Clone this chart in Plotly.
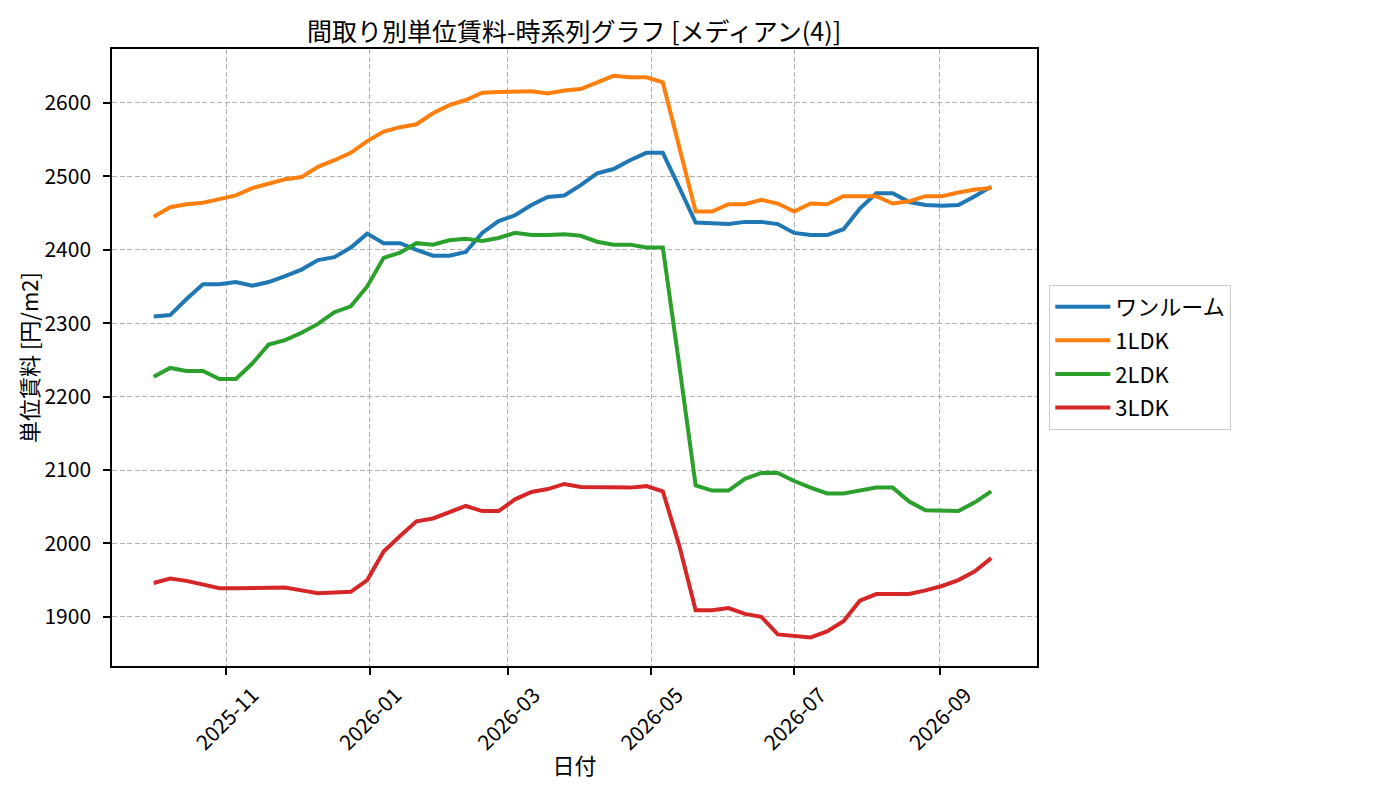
import pandas as pd
import plotly.graph_objects as go

# ---- data ----
dates = pd.date_range("2025-10-01", periods=52, freq="7D")

series_names = ["ワンルーム", "1LDK", "2LDK", "3LDK"]

one_room = [2309, 2311, 2333, 2353, 2353, 2356, 2351, 2356, 2364, 2373,
            2386, 2390, 2403, 2422, 2409, 2409, 2400, 2392, 2392, 2397,
            2423, 2439, 2447, 2461, 2472, 2474, 2488, 2504, 2510, 2522,
            2532, 2532, 2485, 2437, 2436, 2435, 2438, 2438, 2435, 2423,
            2420, 2420, 2428, 2456, 2477, 2477, 2465, 2461, 2460, 2461,
            2473, 2486]

ldk1 = [2445, 2458, 2462, 2464, 2469, 2474, 2484, 2490, 2496, 2499,
        2513, 2522, 2532, 2548, 2561, 2567, 2571, 2586, 2597, 2604,
        2614, 2615, 2616, 2616, 2613, 2617, 2619, 2628, 2637, 2635,
        2635, 2628, 2538, 2452, 2452, 2462, 2462, 2468, 2463, 2452,
        2463, 2462, 2473, 2473, 2473, 2463, 2466, 2473, 2473, 2478,
        2482, 2484]

ldk2 = [2227, 2239, 2235, 2235, 2224, 2224, 2245, 2271, 2277, 2287,
        2299, 2315, 2323, 2350, 2389, 2396, 2409, 2407, 2413, 2415,
        2412, 2416, 2423, 2420, 2420, 2421, 2419, 2411, 2407, 2407,
        2403, 2403, 2243, 2079, 2072, 2072, 2088, 2096, 2096, 2085,
        2076, 2068, 2068, 2072, 2076, 2076, 2057, 2045, 2044, 2044,
        2056, 2071]

ldk3 = [1946, 1952, 1949, 1944, 1939, 1939, 1939, 1939, 1940, 1936,
        1932, 1933, 1934, 1950, 1989, 2010, 2030, 2034, 2042, 2051,
        2044, 2044, 2060, 2070, 2074, 2081, 2077, 2077, 2076, 2076,
        2078, 2071, 1997, 1909, 1909, 1912, 1904, 1900, 1876, 1874,
        1872, 1880, 1894, 1922, 1931, 1931, 1931, 1936, 1942, 1950,
        1962, 1980]

x_tick_vals = ["2025-11-01", "2026-01-01", "2026-03-01",
               "2026-05-01", "2026-07-01", "2026-09-01"]
x_tick_text = ["2025-11", "2026-01", "2026-03", "2026-05", "2026-07", "2026-09"]
y_tick_vals = [1900, 2000, 2100, 2200, 2300, 2400, 2500, 2600]

colors = ["#1f77b4", "#ff7f0e", "#2ca02c", "#d62728"]
values = [one_room, ldk1, ldk2, ldk3]

FONT = "Noto Sans CJK JP"

fig = go.Figure()
for name, vals, col in zip(series_names, values, colors):
    fig.add_trace(go.Scatter(x=dates, y=vals, mode="lines", name=name,
                             legendgroup=name,
                             line=dict(color=col, width=4)))

axis_common = dict(
    showline=True, linecolor="black", linewidth=1.5, mirror=True,
    ticks="outside", ticklen=7, tickwidth=1.5, tickcolor="black",
    showgrid=True, gridcolor="#b0b0b0", gridwidth=1, griddash="5px,2.5px",
    zeroline=False, tickfont=dict(family=FONT, size=21, color="black"),
)

# page body has an 8px offset; margins compensate so the plot box sits where the reference has it
fig.update_layout(
    width=1400, height=800,
    paper_bgcolor="white", plot_bgcolor="white",
    margin=dict(l=104, r=371, t=41, b=142, autoexpand=False),
    font=dict(family=FONT, color="black"),
    title=dict(text="間取り別単位賃料-時系列グラフ [メディアン(4)]",
               font=dict(family=FONT, size=25, color="black"),
               x=566 / 1400, xanchor="center",
               y=1 - 24 / 800, yanchor="middle"),
    xaxis=dict(**axis_common,
               range=["2025-09-13 05:00", "2026-10-12 12:00"],
               tickmode="array", tickvals=x_tick_vals, ticktext=x_tick_text,
               tickangle=-45, ticklabelshift=26, ticklabelstandoff=0,
               title=dict(text="日付", font=dict(family=FONT, size=22, color="black"),
                          standoff=4)),
    yaxis=dict(**axis_common,
               range=[1833, 2673.5],
               tickmode="array", tickvals=y_tick_vals, ticklabelstandoff=8,
               title=dict(text="単位賃料 [円/m2]",
                          font=dict(family=FONT, size=22, color="black"),
                          standoff=0)),
    legend=dict(x=1.0133, xanchor="left", y=0.6176, yanchor="top",
                bgcolor="white", bordercolor="#cccccc", borderwidth=1,
                font=dict(family=FONT, size=22, color="black"),
                tracegroupgap=2, itemwidth=55),
    showlegend=True,
)

fig.write_html("out.html")
